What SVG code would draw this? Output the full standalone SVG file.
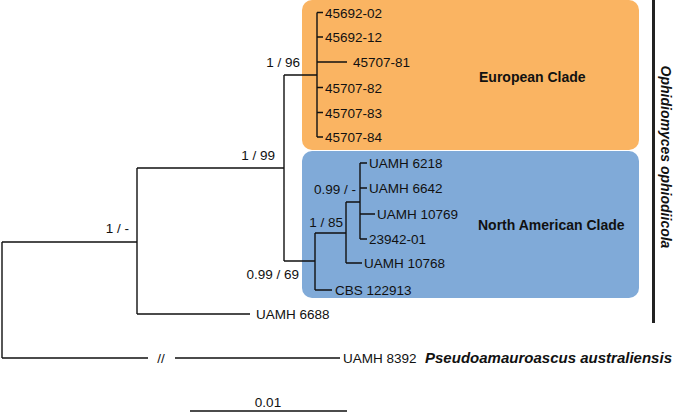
<svg xmlns="http://www.w3.org/2000/svg" width="675" height="414" viewBox="0 0 675 414">
<style>
.t{font-family:"Liberation Sans",Arial,sans-serif;font-size:13.5px;fill:#111}
.b{font-family:"Liberation Sans",Arial,sans-serif;font-size:14px;font-weight:bold;fill:#111}
.bi{font-family:"Liberation Sans",Arial,sans-serif;font-size:14px;font-weight:bold;font-style:italic;fill:#111}
.e{text-anchor:end}
.m{text-anchor:middle}
.l{fill:none;stroke:#111;stroke-width:1.4}
</style>
<g id="european-clade">
<rect x="302" y="0" width="337" height="150" rx="10" fill="#FAB462"/>
<text class="b" x="479" y="82">European Clade</text>
</g>
<g id="north-american-clade">
<rect x="302" y="151" width="337" height="147" rx="10" fill="#80AAD8"/>
<text class="b" x="478" y="230">North American Clade</text>
</g>
<g id="connectors" class="l">
<path d="M2,242V358M2,242H137M137,168V314M137,168H284M137,314H250M284,75V261M284,75H317M317,12.5V137M317,12.5H323M317,37H323M317,62H347M317,87.5H323M317,112.5H323M317,137H323M284,261H315M315,233V290M315,290H332M315,233H346M346,202V263M346,263H362M346,202H360M360,163V239M360,163H367M360,188H367M360,214H375M360,239H367M2,358H148M175,358H340M190,411H347"/>
</g>
<g id="species-bar">
<rect x="652" y="0" width="3" height="323" fill="#222"/>
<text class="bi m" transform="translate(661,157) rotate(90)" font-size="13">Ophidiomyces ophiodiicola</text>
</g>
<g id="leaves">
<text class="t" x="325" y="17.5">45692-02</text>
<text class="t" x="325" y="42">45692-12</text>
<text class="t" x="353" y="67">45707-81</text>
<text class="t" x="325" y="92.5">45707-82</text>
<text class="t" x="325" y="117.5">45707-83</text>
<text class="t" x="325" y="142">45707-84</text>
<text class="t" x="369" y="168">UAMH 6218</text>
<text class="t" x="369" y="193">UAMH 6642</text>
<text class="t" x="377" y="219">UAMH 10769</text>
<text class="t" x="369" y="244">23942-01</text>
<text class="t" x="364" y="268">UAMH 10768</text>
<text class="t" x="335" y="295">CBS 122913</text>
<text class="t" x="256" y="319">UAMH 6688</text>
<text class="t" x="343" y="363">UAMH 8392</text>
<text class="bi" x="425" y="363" textLength="247" lengthAdjust="spacingAndGlyphs">Pseudoamauroascus australiensis</text>
</g>
<g id="support-labels">
<text class="t e" x="300" y="67">1 / 96</text>
<text class="t e" x="275" y="160">1 / 99</text>
<text class="t e" x="129" y="233">1 / -</text>
<text class="t e" x="299" y="279">0.99 / 69</text>
<text class="t e" x="343" y="227">1 / 85</text>
<text class="t e" x="356" y="194">0.99 / -</text>
<text class="t m" x="161" y="363">//</text>
<text class="t m" x="268" y="407">0.01</text>
</g>
</svg>
